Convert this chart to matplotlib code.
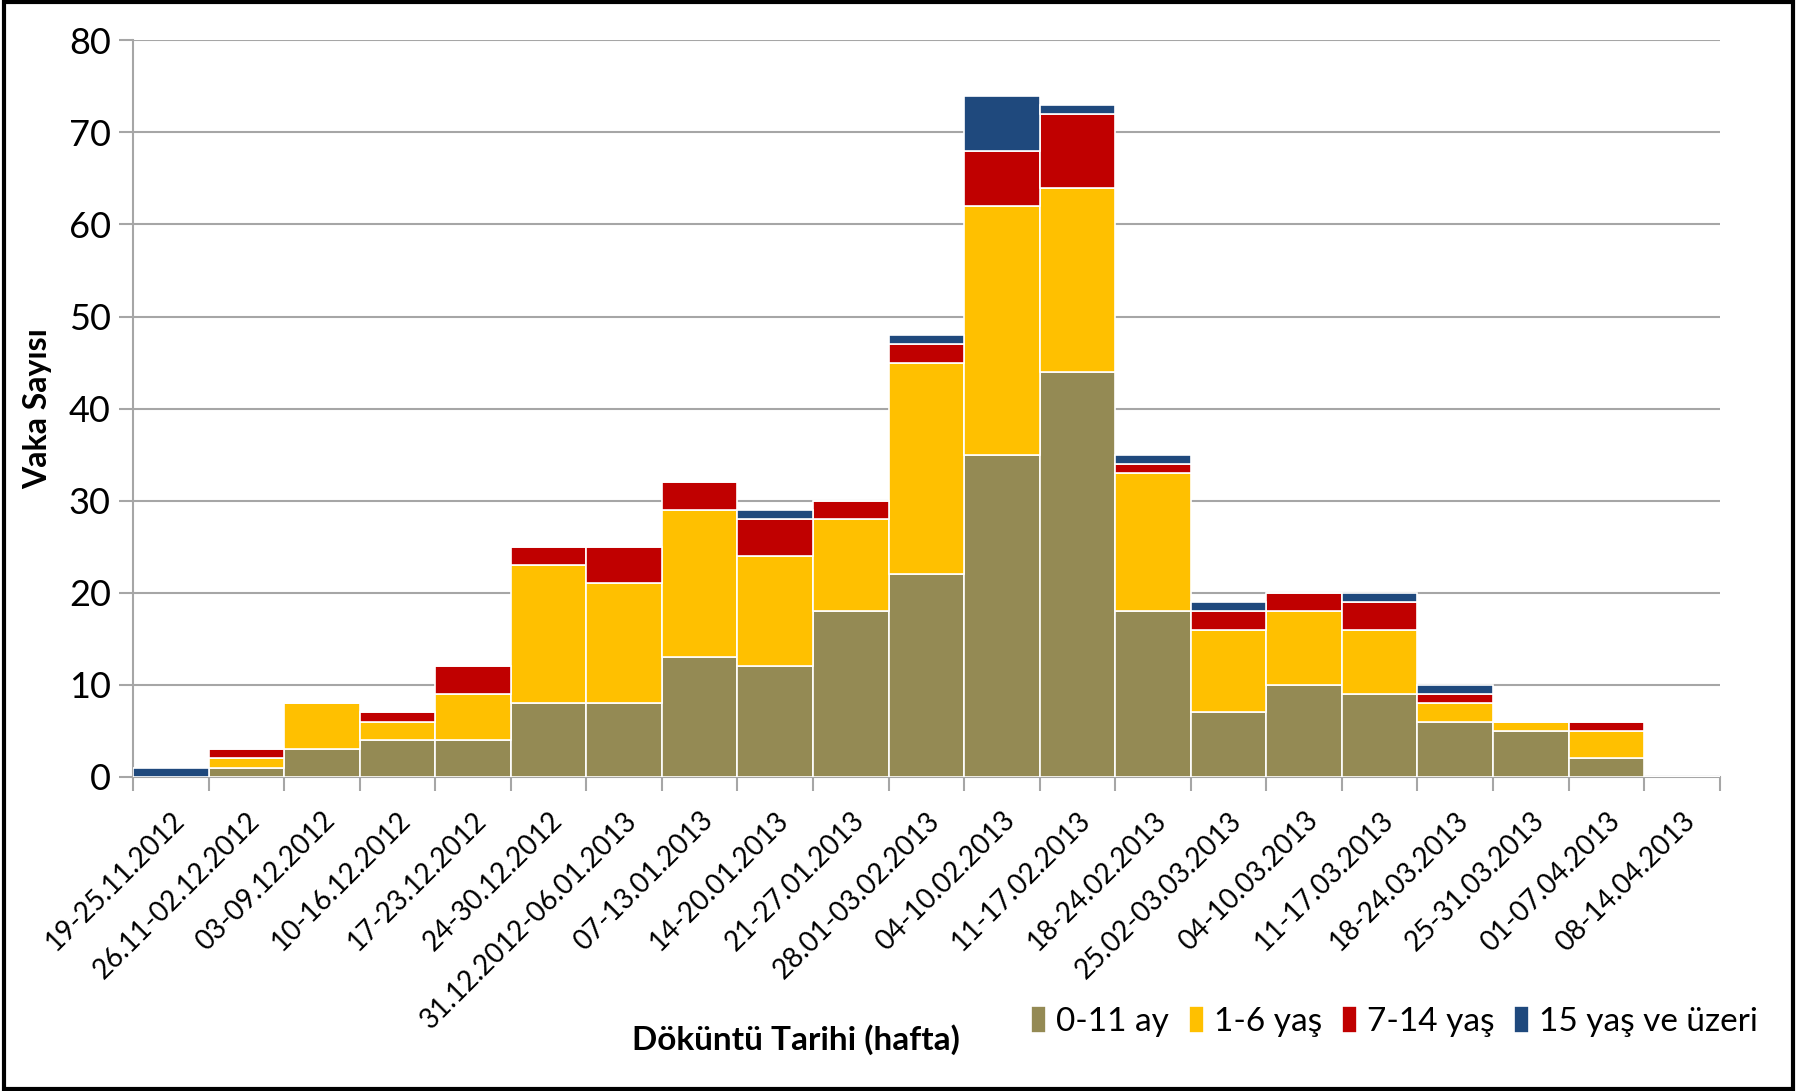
import numpy as np
import matplotlib.pyplot as plt
from matplotlib.patches import Rectangle

plt.rcParams['font.family'] = ['Lato', 'DejaVu Sans']

weeks = ['19-25.11.2012', '26.11-02.12.2012', '03-09.12.2012', '10-16.12.2012',
         '17-23.12.2012', '24-30.12.2012', '31.12.2012-06.01.2013', '07-13.01.2013',
         '14-20.01.2013', '21-27.01.2013', '28.01-03.02.2013', '04-10.02.2013',
         '11-17.02.2013', '18-24.02.2013', '25.02-03.03.2013', '04-10.03.2013',
         '11-17.03.2013', '18-24.03.2013', '25-31.03.2013', '01-07.04.2013',
         '08-14.04.2013']

age_0_11m = [0, 1, 3, 4, 4, 8, 8, 13, 12, 18, 22, 35, 44, 18, 7, 10, 9, 6, 5, 2, 0]
age_1_6 = [0, 1, 5, 2, 5, 15, 13, 16, 12, 10, 23, 27, 20, 15, 9, 8, 7, 2, 1, 3, 0]
age_7_14 = [0, 1, 0, 1, 3, 2, 4, 3, 4, 2, 2, 6, 8, 1, 2, 2, 3, 1, 0, 1, 0]
age_15_plus = [1, 0, 0, 0, 0, 0, 0, 0, 1, 0, 1, 6, 1, 1, 1, 0, 1, 1, 0, 0, 0]

series = [
    ('0-11 ay', age_0_11m, '#948A54'),
    ('1-6 yaş', age_1_6, '#FFC000'),
    ('7-14 yaş', age_7_14, '#C00000'),
    ('15 yaş ve üzeri', age_15_plus, '#1F497D'),
]

fig = plt.figure(figsize=(17.97, 10.91), dpi=100)
ax = fig.add_axes([0.074, 0.288, 0.883, 0.675])

x = np.arange(len(weeks))
bottom = np.zeros(len(weeks))
for name, vals, color in series:
    vals = np.array(vals, dtype=float)
    ax.bar(x, vals, width=1.0, bottom=bottom, color=color, edgecolor='white',
           linewidth=1.2, label=name, zorder=3)
    bottom += vals

ax.set_xlim(-0.5, len(weeks) - 0.5)
ax.set_ylim(0, 80)
ax.set_yticks(range(0, 81, 10))
ax.yaxis.grid(True, color='#A6A6A6', linewidth=1.5, zorder=0)
ax.set_axisbelow(True)

ax.set_xticks(x)
ax.set_xticklabels(weeks, rotation=45, ha='right', rotation_mode='anchor', fontsize=20)
ax.tick_params(axis='x', length=0, pad=22)
ax.set_xticks(np.arange(-0.5, len(weeks), 1), minor=True)
ax.tick_params(axis='x', which='minor', length=10, width=1.5, color='#A6A6A6', direction='out')
ax.tick_params(axis='y', labelsize=26, length=10, width=1.5, color='#A6A6A6', pad=6)

for s in ['top', 'right']:
    ax.spines[s].set_visible(False)
for s in ['left', 'bottom']:
    ax.spines[s].set_color('#A6A6A6')
    ax.spines[s].set_linewidth(1.5)

ax.set_ylabel('Vaka Sayısı', fontsize=23, fontweight='bold', labelpad=12)
fig.text(0.443, 0.047, 'Döküntü Tarihi (hafta)', fontsize=24, fontweight='bold',
         ha='center', va='center')

handles, labels = ax.get_legend_handles_labels()
fig.legend(handles, labels, loc='center right', bbox_to_anchor=(0.995, 0.064), ncol=4,
           frameon=False, fontsize=24, handlelength=0.45, handleheight=0.9,
           handletextpad=0.3, columnspacing=0.6)

fig.patches.append(Rectangle((0.002, 0.002), 0.996, 0.996, transform=fig.transFigure,
                             fill=False, edgecolor='black', linewidth=3))

fig.savefig('out.png', dpi=100)
